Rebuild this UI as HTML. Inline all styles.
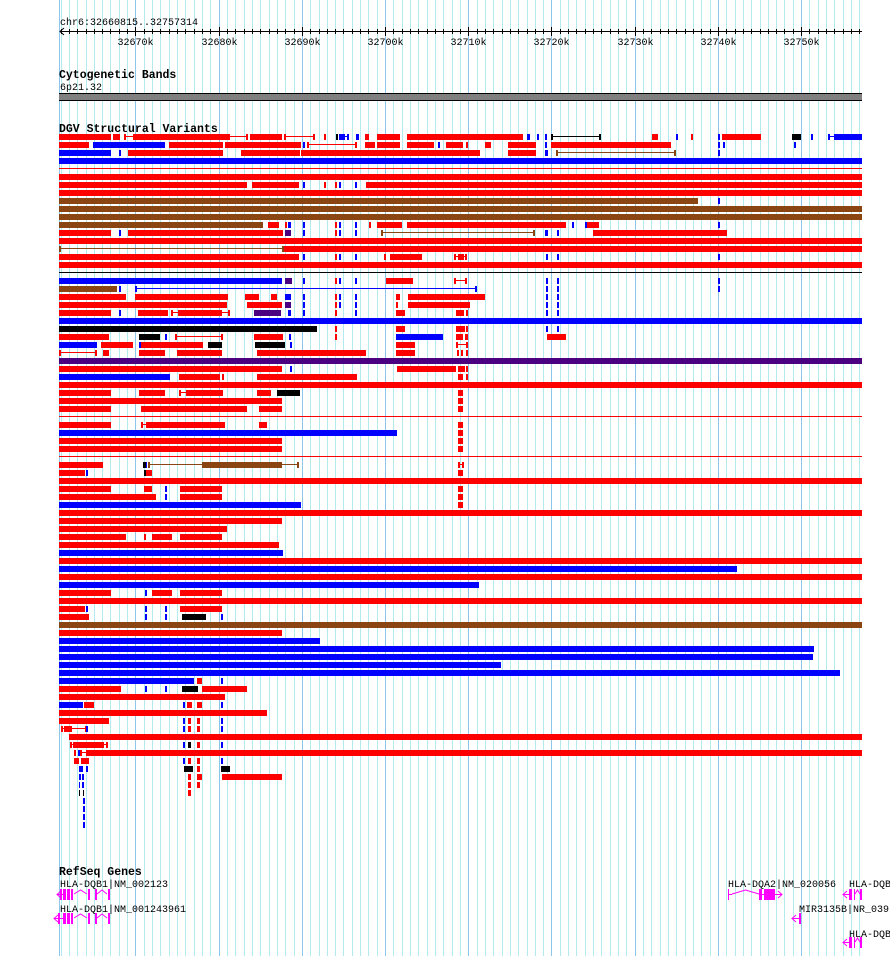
<!DOCTYPE html>
<html><head><meta charset="utf-8"><style>
html,body{margin:0;padding:0;background:#fff;}
svg{display:block;}
text{font-family:"Liberation Mono",monospace;font-size:10px;}
.t{font-weight:bold;font-size:11.5px;}
</style></head><body>
<svg id="s" width="890" height="956" xmlns="http://www.w3.org/2000/svg"></svg>
<script>
var S=document.getElementById('s'),h='';
var X0=59,XE=862,SC=803/96499,ST=32660815;
function px(bp){return X0+(bp-ST)*SC;}
for(var k=32661;k<=32757;k++){var x=Math.round(px(k*1000))+0.5;var maj=(k%10==0);
h+='<line x1="'+x+'" y1="0" x2="'+x+'" y2="956" stroke="'+(maj?'#8cc6ea':'#b2eaee')+'" stroke-width="1"/>';}
h+='<line x1="59.5" y1="0" x2="59.5" y2="956" stroke="#8cc6ea"/>';
h+='<text x="60" y="25">chr6:32660815..32757314</text>';
h+='<line x1="60" y1="31.5" x2="862" y2="31.5" stroke="#000"/>';
h+='<polyline points="64,28 60,31.5 64,35" fill="none" stroke="#000"/>';
for(var k=32661;k<=32757;k++){var x=Math.round(px(k*1000))+0.5;h+='<line x1="'+x+'" y1="29" x2="'+x+'" y2="34" stroke="#000"/>';
if(k%10==0){h+='<line x1="'+x+'" y1="27" x2="'+x+'" y2="36" stroke="#000"/><text x="'+x+'" y="45" text-anchor="middle">'+k+'k</text>';}}
h+='<text class="t" x="59" y="78">Cytogenetic Bands</text><text x="60" y="90">6p21.32</text>';
h+='<rect x="59" y="93" width="803" height="8" fill="#808080"/><line x1="59" y1="93.5" x2="862" y2="93.5" stroke="#000"/><line x1="59" y1="100.5" x2="862" y2="100.5" stroke="#000"/>';
h+='<text class="t" x="59" y="132">DGV Structural Variants</text>';
var C={r:'#ff0000',b:'#0000ff',k:'#000000',n:'#8b4513',p:'#4b0082'};
var F=862;
var R=[
[134,[[59,111,'r'],[113,120,'r'],[124,135,'r','c'],[135,228,'r'],[228,248,'r','c'],[250,282,'r'],[284,315,'r','c'],[324,326,'r'],[336,338,'k'],[339,349,'b','c'],[339,345,'b'],[356,359,'b'],[365,369,'r'],[377,400,'r'],[407,523,'r'],[527,530,'b'],[537,539,'b'],[545,547,'b'],[551,601,'k','c'],[652,658,'r'],[676,678,'b'],[691,693,'r'],[718,720,'b'],[722,761,'r'],[792,801,'k'],[811,813,'b'],[828,836,'b','c'],[836,F,'b']]],
[142,[[59,89,'r'],[93,165,'b'],[169,223,'r'],[225,301,'r'],[303,305,'b'],[307,357,'r','c'],[365,375,'r'],[377,400,'r'],[407,434,'r'],[438,440,'b'],[446,463,'r'],[466,468,'r'],[485,491,'r'],[508,536,'r'],[545,547,'b'],[551,671,'r'],[718,720,'b'],[723,725,'b'],[794,796,'b']]],
[150,[[59,111,'b'],[119,121,'b'],[128,223,'r'],[241,300,'r'],[301,480,'r'],[508,536,'r'],[545,548,'b'],[556,676,'n','c'],[718,720,'b']]],
[158,[[59,F,'b']]],
[166,[[59,F,'r','l']]],
[174,[[59,F,'r']]],
[182,[[59,247,'r'],[252,299,'r'],[303,305,'b'],[324,326,'r'],[335,337,'r'],[339,341,'b'],[355,357,'b'],[366,F,'r']]],
[190,[[59,F,'r']]],
[198,[[59,698,'n'],[718,720,'b']]],
[206,[[59,F,'n']]],
[214,[[59,F,'n']]],
[222,[[59,263,'n'],[268,279,'r'],[285,287,'r'],[288,291,'b'],[303,305,'b'],[335,337,'r'],[339,341,'b'],[355,357,'b'],[369,371,'r'],[377,402,'r'],[407,566,'r'],[572,574,'b'],[585,587,'b'],[587,599,'r'],[718,720,'b']]],
[230,[[59,111,'r'],[119,121,'b'],[128,283,'r'],[285,291,'p'],[303,305,'b'],[335,337,'r'],[339,341,'b'],[355,357,'b'],[381,535,'n','c'],[545,548,'b'],[557,559,'b'],[593,727,'r']]],
[238,[[59,F,'r']]],
[246,[[59,284,'n','c'],[284,F,'r']]],
[254,[[59,299,'r'],[303,305,'b'],[335,337,'r'],[339,341,'b'],[355,357,'b'],[384,386,'r'],[390,422,'r'],[454,467,'r','c'],[458,464,'r'],[546,548,'b'],[557,559,'b'],[718,720,'b']]],
[262,[[59,F,'r']]],
[270,[[59,F,'k','l']]],
[278,[[59,282,'b'],[285,292,'p'],[303,305,'b'],[335,337,'r'],[339,341,'b'],[355,357,'b'],[386,413,'r'],[454,467,'r','c'],[546,548,'b'],[557,559,'b'],[718,720,'b']]],
[286,[[59,117,'n'],[119,121,'b'],[135,477,'b','c'],[546,548,'b'],[557,559,'b'],[718,720,'b']]],
[294,[[59,126,'r'],[135,228,'r'],[245,259,'r'],[271,277,'r'],[285,291,'b'],[303,305,'b'],[335,337,'r'],[339,341,'b'],[355,357,'b'],[396,400,'r'],[408,485,'r'],[546,548,'b'],[557,559,'b']]],
[302,[[59,227,'r'],[247,282,'r'],[285,291,'p'],[303,305,'b'],[335,337,'r'],[339,341,'b'],[355,357,'b'],[396,398,'r'],[408,470,'r'],[546,548,'b'],[557,559,'b']]],
[310,[[59,111,'r'],[119,121,'b'],[138,168,'r'],[171,230,'r','c'],[178,222,'r'],[254,281,'p'],[288,291,'b'],[303,305,'b'],[335,337,'r'],[355,357,'b'],[396,405,'r'],[456,464,'r'],[466,468,'r'],[546,548,'b'],[557,559,'b']]],
[318,[[59,F,'b']]],
[326,[[59,317,'k'],[335,337,'r'],[396,405,'r'],[456,465,'r'],[466,468,'r'],[546,548,'b'],[557,559,'b']]],
[334,[[59,109,'r'],[139,160,'k'],[165,167,'b'],[175,223,'r','c'],[254,283,'r'],[289,291,'b'],[335,337,'r'],[396,443,'b'],[456,463,'r'],[465,468,'r'],[547,566,'r']]],
[342,[[59,97,'b'],[101,133,'r'],[139,141,'b'],[141,203,'r'],[208,222,'k'],[255,285,'k'],[290,292,'b'],[396,415,'r'],[456,468,'r','c'],[456,458,'r'],[466,468,'r']]],
[350,[[59,97,'r','c'],[103,109,'r'],[139,165,'r'],[177,222,'r'],[257,366,'r'],[396,415,'r'],[457,459,'r'],[461,463,'r'],[466,468,'r']]],
[358,[[59,F,'p']]],
[366,[[59,282,'r'],[290,292,'b'],[397,456,'r'],[458,465,'r'],[466,468,'r']]],
[374,[[59,170,'b'],[179,220,'r'],[222,224,'r'],[257,357,'r'],[458,463,'r'],[466,468,'r']]],
[382,[[59,F,'r']]],
[390,[[59,111,'r'],[139,165,'r'],[179,188,'r','c'],[188,223,'r'],[257,271,'r'],[277,300,'k'],[458,463,'r']]],
[398,[[59,282,'r'],[458,463,'r']]],
[406,[[59,111,'r'],[141,247,'r'],[259,282,'r'],[458,463,'r']]],
[414,[[59,F,'r','l']]],
[422,[[59,111,'r'],[141,148,'r','c'],[148,225,'r'],[259,267,'r'],[458,463,'r']]],
[430,[[59,397,'b'],[458,463,'r']]],
[438,[[59,282,'r'],[458,463,'r']]],
[446,[[59,282,'r'],[458,463,'r']]],
[454,[[59,F,'r','l']]],
[462,[[59,99,'r'],[99,103,'r','c'],[143,146,'k'],[146,147,'b'],[148,299,'n','c'],[202,282,'n'],[458,464,'r','c']]],
[470,[[59,85,'r'],[86,88,'b'],[144,146,'k'],[146,152,'r'],[458,463,'r']]],
[478,[[59,F,'r']]],
[486,[[59,111,'r'],[144,152,'r'],[165,167,'b'],[180,222,'r'],[458,463,'r']]],
[494,[[59,156,'r'],[165,167,'b'],[180,222,'r'],[458,463,'r']]],
[502,[[59,301,'b'],[458,463,'r']]],
[510,[[59,F,'r']]],
[518,[[59,282,'r']]],
[526,[[59,223,'r'],[223,227,'r','c']]],
[534,[[59,126,'r'],[144,146,'r'],[152,172,'r'],[180,222,'r']]],
[542,[[59,279,'r']]],
[550,[[59,283,'b']]],
[558,[[59,F,'r']]],
[566,[[59,737,'b']]],
[574,[[59,F,'r']]],
[582,[[59,479,'b']]],
[590,[[59,111,'r'],[145,147,'b'],[152,172,'r'],[180,222,'r']]],
[598,[[59,F,'r']]],
[606,[[59,85,'r'],[86,88,'b'],[145,147,'b'],[165,167,'b'],[180,222,'r']]],
[614,[[59,89,'r'],[145,147,'b'],[165,167,'b'],[182,206,'k'],[221,223,'b']]],
[622,[[59,F,'n']]],
[630,[[59,282,'r']]],
[638,[[59,320,'b']]],
[646,[[59,814,'b']]],
[654,[[59,813,'b']]],
[662,[[59,501,'b']]],
[670,[[59,840,'b']]],
[678,[[59,194,'b'],[197,202,'r'],[221,223,'b']]],
[686,[[59,121,'r'],[145,147,'b'],[165,167,'b'],[182,198,'k'],[202,247,'r']]],
[694,[[59,225,'r']]],
[702,[[59,83,'b'],[84,94,'r'],[183,185,'b'],[187,192,'r'],[197,202,'r'],[221,223,'b']]],
[710,[[59,267,'r']]],
[718,[[59,109,'r'],[183,185,'b'],[188,191,'r'],[197,200,'r'],[221,223,'b']]],
[726,[[61,87,'r','c'],[64,72,'r'],[86,88,'b'],[183,185,'b'],[188,191,'r'],[197,200,'r'],[221,223,'b']]],
[734,[[69,F,'r']]],
[742,[[70,108,'r','c'],[73,104,'r'],[183,185,'b'],[188,191,'k'],[197,200,'r'],[221,223,'b']]],
[750,[[74,76,'r'],[78,80,'b'],[80,88,'r','c'],[88,F,'r']]],
[758,[[74,79,'r'],[81,89,'r'],[183,185,'b'],[188,191,'r'],[197,200,'r'],[221,223,'b']]],
[766,[[79,83,'b'],[86,88,'b'],[184,193,'k'],[197,200,'r'],[221,230,'k']]],
[774,[[79,81,'b'],[82,84,'b'],[188,191,'r'],[197,202,'r'],[222,282,'r']]],
[782,[[79,80,'b'],[82,84,'b'],[188,191,'r'],[197,200,'r']]],
[790,[[79,80,'k'],[83,84,'k'],[188,191,'r']]],
[798,[[83,85,'b']]],[806,[[83,85,'b']]],[814,[[83,85,'b']]],[822,[[83,85,'b']]]
];
R.forEach(function(row){var y=row[0];row[1].forEach(function(s){var c=C[s[2]],t=s[3]||'b';
if(t=='b')h+='<rect x="'+s[0]+'" y="'+y+'" width="'+Math.max(1,s[1]-s[0])+'" height="6" fill="'+c+'"/>';
else if(t=='l')h+='<rect x="'+s[0]+'" y="'+(y+2)+'" width="'+(s[1]-s[0])+'" height="1" fill="'+c+'"/>';
else{h+='<rect x="'+s[0]+'" y="'+(y+2)+'" width="'+(s[1]-s[0])+'" height="1" fill="'+c+'"/><rect x="'+s[0]+'" y="'+y+'" width="2" height="6" fill="'+c+'"/><rect x="'+(s[1]-2)+'" y="'+y+'" width="2" height="6" fill="'+c+'"/>';}
});});
var M='#ff00ff';
h+='<text class="t" x="59" y="875">RefSeq Genes</text>';
h+='<text x="60" y="887">HLA-DQB1|NM_002123</text>';
h+='<text x="60" y="912">HLA-DQB1|NM_001243961</text>';
h+='<text x="728" y="887">HLA-DQA2|NM_020056</text>';
h+='<text x="849" y="887">HLA-DQB</text>';
h+='<text x="799" y="912">MIR3135B|NR_039</text>';
h+='<text x="849" y="937">HLA-DQB</text>';
function gene(y,x1,x2,exons,dir){h+='<line x1="'+x1+'" y1="'+(y+0.5)+'" x2="'+x2+'" y2="'+(y+0.5)+'" stroke="'+M+'"/>';
exons.forEach(function(e){h+='<rect x="'+e[0]+'" y="'+(y-5)+'" width="'+(e[1]-e[0])+'" height="'+(e[2]||11)+'" fill="'+M+'"/>';});
if(dir<0)h+='<polyline points="'+(x1+4)+','+(y-3)+' '+x1+','+(y+0.5)+' '+(x1+4)+','+(y+4)+'" fill="none" stroke="'+M+'"/>';
else h+='<polyline points="'+(x2-4)+','+(y-3)+' '+x2+','+(y+0.5)+' '+(x2-4)+','+(y+4)+'" fill="none" stroke="'+M+'"/>';}
function intr(y,a,b){var m=(a+b)/2;h+='<polyline points="'+a+','+y+' '+m+','+(y-4)+' '+b+','+y+'" fill="none" stroke="'+M+'"/>';}
gene(894,57,64,[[60,62],[63,66],[67,70],[71,73],[88,90],[95,97],[108,110]],-1);intr(894,74,87);intr(894,97,107);
gene(918,54,64,[[58,60],[63,66],[67,70],[71,73],[88,90],[95,97],[108,110]],-1);intr(918,74,87);intr(918,97,107);
h+='<rect x="728" y="889" width="1" height="11" fill="'+M+'"/><line x1="729" y1="894.5" x2="732" y2="894.5" stroke="'+M+'"/>';intr(894,732,759);
gene(894,759,782,[[759,762],[764,775]],1);
gene(918,792,800,[[799,801]],-1);
gene(894,843,849,[[849,852],[854,855],[860,862]],-1);intr(894,855,860);
gene(942,843,849,[[849,852],[854,855],[860,862]],-1);intr(942,855,860);
S.innerHTML=h;
</script>
</body></html>
